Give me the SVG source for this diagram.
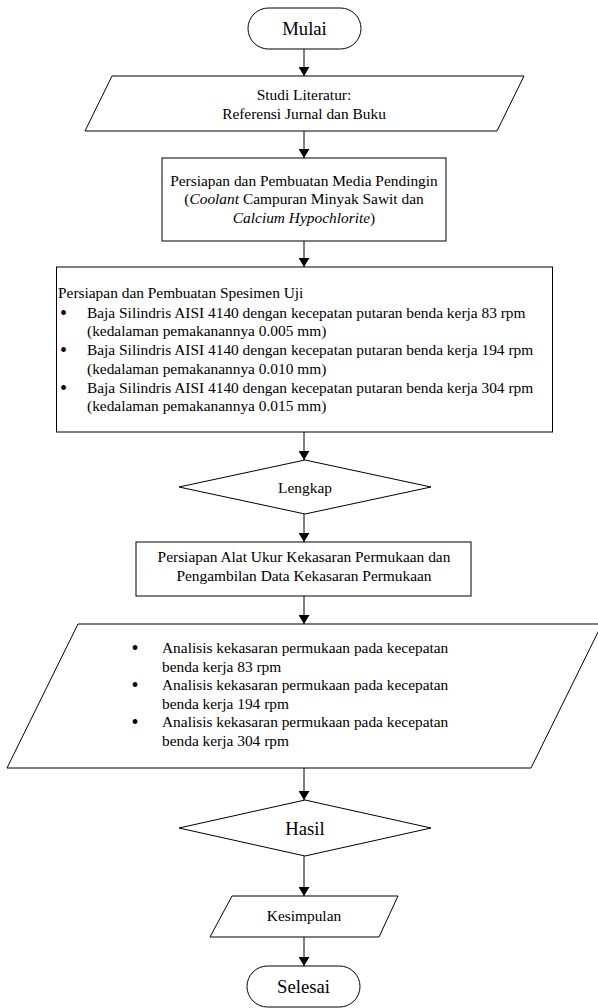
<svg xmlns="http://www.w3.org/2000/svg" width="598" height="1008" viewBox="0 0 598 1008">
<style>
.s{fill:#fff;stroke:#000;stroke-width:1}
.t{font-family:"Liberation Serif","Times New Roman",serif;font-size:15.4px;fill:#000}
.c{text-anchor:middle}
.b{font-size:18.7px}
.i{font-style:italic}
.u{font-size:20px}
.k{stroke:#000;stroke-width:1;fill:none}
</style>
<defs>
<marker id="ah" markerWidth="9" markerHeight="11" refX="9" refY="5.5" orient="auto" markerUnits="userSpaceOnUse">
<path d="M0,0 L9,5.5 L0,11 Z" fill="#000"/>
</marker>
</defs>
<rect width="598" height="1008" fill="#fff"/>
<g id="connectors">
<line class="k" x1="304" y1="49" x2="304" y2="76" marker-end="url(#ah)"/>
<line class="k" x1="304" y1="131" x2="304" y2="158" marker-end="url(#ah)"/>
<line class="k" x1="304" y1="241" x2="304" y2="267" marker-end="url(#ah)"/>
<line class="k" x1="304" y1="432" x2="304" y2="460" marker-end="url(#ah)"/>
<line class="k" x1="304" y1="514" x2="304" y2="542" marker-end="url(#ah)"/>
<line class="k" x1="304" y1="596" x2="304" y2="624" marker-end="url(#ah)"/>
<line class="k" x1="304" y1="768" x2="304" y2="800" marker-end="url(#ah)"/>
<line class="k" x1="304" y1="856" x2="304" y2="896" marker-end="url(#ah)"/>
<line class="k" x1="304" y1="937" x2="304" y2="966" marker-end="url(#ah)"/>
</g>
<g id="mulai">
<rect class="s" x="248" y="8" width="113" height="41" rx="20.5"/>
<text class="t c b" x="304.5" y="35">Mulai</text>
</g>
<g id="studi">
<polygon class="s" points="112,76 524,76 497,131 85,131"/>
<text class="t c" x="304" y="100">Studi Literatur:</text>
<text class="t c" x="304" y="119">Referensi Jurnal dan Buku</text>
</g>
<g id="media">
<rect class="s" x="162" y="158" width="284" height="83"/>
<text class="t c" x="304" y="186">Persiapan dan Pembuatan Media Pendingin</text>
<text class="t c" x="304" y="204">(<tspan class="i">Coolant</tspan> Campuran Minyak Sawit dan</text>
<text class="t c" x="304" y="223"><tspan class="i">Calcium Hypochlorite</tspan>)</text>
</g>
<g id="spesimen">
<rect class="s" x="56.5" y="267" width="496" height="165"/>
<text class="t" x="58" y="298">Persiapan dan Pembuatan Spesimen Uji</text>
<text class="t u" x="60" y="319.5">•</text>
<text class="t" x="87" y="317.5">Baja Silindris AISI 4140 dengan kecepatan putaran benda kerja 83 rpm</text>
<text class="t" x="87" y="336">(kedalaman pemakanannya 0.005 mm)</text>
<text class="t u" x="60" y="357">•</text>
<text class="t" x="87" y="355">Baja Silindris AISI 4140 dengan kecepatan putaran benda kerja 194 rpm</text>
<text class="t" x="87" y="373.5">(kedalaman pemakanannya 0.010 mm)</text>
<text class="t u" x="60" y="394.5">•</text>
<text class="t" x="87" y="392.5">Baja Silindris AISI 4140 dengan kecepatan putaran benda kerja 304 rpm</text>
<text class="t" x="87" y="411">(kedalaman pemakanannya 0.015 mm)</text>
</g>
<g id="lengkap">
<polygon class="s" points="305,460 431,487 305,514 179,487"/>
<text class="t c" x="305" y="493">Lengkap</text>
</g>
<g id="alat">
<rect class="s" x="136" y="542" width="335" height="54"/>
<text class="t c" x="304" y="562">Persiapan Alat Ukur Kekasaran Permukaan dan</text>
<text class="t c" x="304" y="581">Pengambilan Data Kekasaran Permukaan</text>
</g>
<g id="analisis">
<polygon class="s" points="78,624 602,624 531,768 7,768"/>
<text class="t u" x="131.5" y="655">•</text>
<text class="t" x="162" y="653">Analisis kekasaran permukaan pada kecepatan</text>
<text class="t" x="162" y="672">benda kerja 83 rpm</text>
<text class="t u" x="131.5" y="692">•</text>
<text class="t" x="162" y="690">Analisis kekasaran permukaan pada kecepatan</text>
<text class="t" x="162" y="709">benda kerja 194 rpm</text>
<text class="t u" x="131.5" y="729">•</text>
<text class="t" x="162" y="727">Analisis kekasaran permukaan pada kecepatan</text>
<text class="t" x="162" y="746">benda kerja 304 rpm</text>
</g>
<g id="hasil">
<polygon class="s" points="305,800 431,828 305,856 179,828"/>
<text class="t c b" x="305" y="835">Hasil</text>
</g>
<g id="kesimpulan">
<polygon class="s" points="232,896 398,896 379,937 210,937"/>
<text class="t c" x="304" y="921">Kesimpulan</text>
</g>
<g id="selesai">
<rect class="s" x="247" y="966" width="113" height="41" rx="20.5"/>
<text class="t c b" x="303.5" y="993">Selesai</text>
</g>
</svg>
